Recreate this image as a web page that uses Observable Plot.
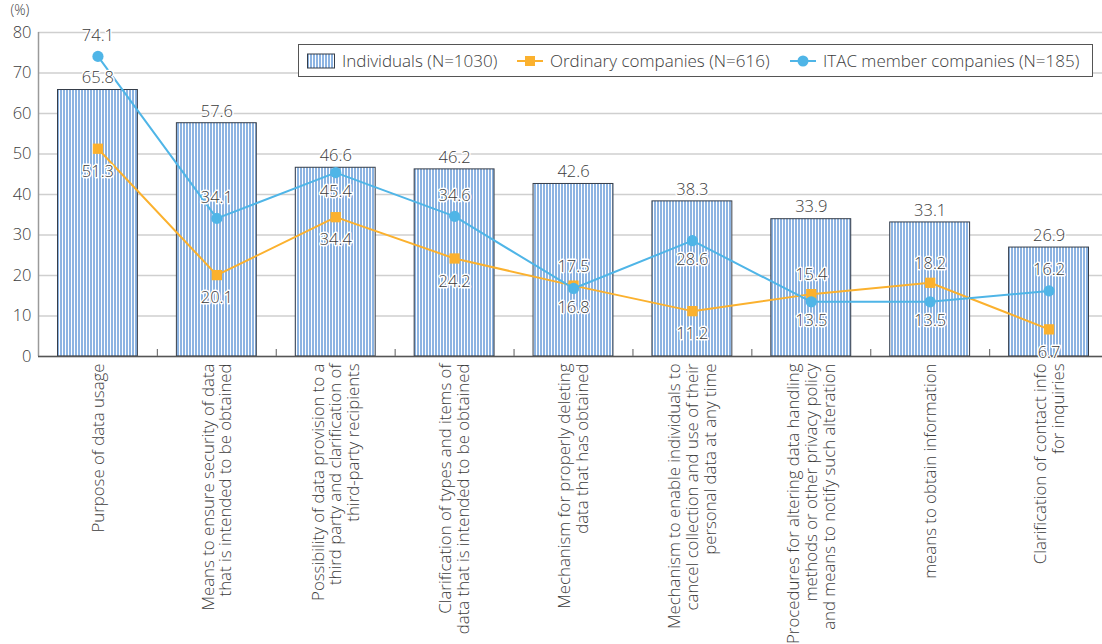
<!DOCTYPE html>
<html>
<head>
<meta charset="utf-8">
<script src="https://cdn.jsdelivr.net/npm/d3@7"></script>
<script src="https://cdn.jsdelivr.net/npm/@observablehq/plot@0.6"></script>
<style>
  html, body { margin: 0; padding: 0; background: #fff; overflow: hidden; }
  #wrap { position: relative; width: 1102px; height: 644px; font-family: "Open Sans", sans-serif; color: #3c3c3c; }
  #legend { position: absolute; left: 298px; top: 44px; width: 795px; height: 33px; box-sizing: border-box;
            border: 1px solid #555; background: #fff; font-size: 17px; font-weight: 300; }
  #legend .item { position: absolute; top: 0; height: 31px; display: flex; align-items: center; white-space: nowrap; }
  #legend svg { display: block; margin-right: 7px; }
</style>
</head>
<body>
<div id="wrap"></div>
<script>
// Survey items shown along the horizontal axis
const categories = [
  "Purpose of data usage",
  "Means to ensure security of data\nthat is intended to be obtained",
  "Possibility of data provision to a\nthird party and clarification of\nthird-party recipients",
  "Clarification of types and items of\ndata that is intended to be obtained",
  "Mechanism for properly deleting\ndata that has obtained",
  "Mechanism to enable individuals to\ncancel collection and use of their\npersonal data at any time",
  "Procedures for altering data handling\nmethods or other privacy policy\nand means to notify such alteration",
  "means to obtain information",
  "Clarification of contact info\nfor inquiries"
];

// Share of respondents (%)
const individuals = [65.8, 57.6, 46.6, 46.2, 42.6, 38.3, 33.9, 33.1, 26.9];
const ordinary    = [51.3, 20.1, 34.4, 24.2, 17.5, 11.2, 15.4, 18.2, 6.7];
const itac        = [74.1, 34.1, 45.4, 34.6, 16.8, 28.6, 13.5, 13.5, 16.2];

// Which side of its point each line label sits on
const ordinarySide = ["below", "below", "below", "below", "above", "below", "above", "above", "below"];
const itacSide     = ["above", "above", "below", "above", "below", "below", "below", "below", "above"];

const yTicks = [0, 10, 20, 30, 40, 50, 60, 70, 80];

const seriesNames = ["Individuals (N=1030)", "Ordinary companies (N=616)", "ITAC member companies (N=185)"];

const barBlue = "#8db4e2";
const orange = "#fbb12e";
const sky = "#4fb5e7";
const ink = "#3c3c3c";

const rows = categories.map((c, i) => ({
  i, c, ind: individuals[i], ord: ordinary[i], itac: itac[i],
  ordSide: ordinarySide[i], itacSide: itacSide[i]
}));
const mid = d => d.i + 0.5;
const bounds = d3.range(1, categories.length);

const labelStyle = {fill: ink, stroke: "white", strokeWidth: 3, fontSize: 16.5, fontWeight: 300};

const chart = Plot.plot({
  width: 1102,
  height: 644,
  marginLeft: 38,
  marginRight: -6,
  marginTop: 32,
  marginBottom: 288,
  style: {fontFamily: "Open Sans, sans-serif", fontSize: "15px", fontWeight: 300, color: ink, background: "white", overflow: "visible"},
  x: {domain: [0, categories.length], axis: null},
  y: {domain: [0, 80], axis: null},
  marks: [
    Plot.gridY(yTicks, {stroke: "#cfcfcf", strokeOpacity: 1, strokeWidth: 1.5}),
    Plot.axisY(yTicks, {tickSize: 0, tickPadding: 7, fontSize: 16.5, fill: ink, label: null}),
    Plot.text(["(%)"], {frameAnchor: "top-left", textAnchor: "start", dx: -28, dy: -27, fontSize: 14, fill: ink}),
    Plot.rect(rows, {
      x1: d => d.i, x2: d => d.i + 1, y1: 0, y2: "ind",
      insetLeft: 19.5, insetRight: 19.5,
      fill: "url(#bar-stripes)", stroke: "#353d49", strokeWidth: 1
    }),
    Plot.ruleX([0], {stroke: "#9a9a9a", strokeWidth: 1.5}),
    Plot.ruleY([0], {stroke: "#555", strokeWidth: 1.5}),
    Plot.ruleX(bounds, {y1: 0, y2: 0, insetTop: -7, stroke: "#777", strokeWidth: 1.2}),
    Plot.line(rows, {x: mid, y: "ord", stroke: orange, strokeWidth: 2}),
    Plot.dot(rows, {x: mid, y: "ord", symbol: "square", r: 5.8, fill: orange}),
    Plot.line(rows, {x: mid, y: "itac", stroke: sky, strokeWidth: 2}),
    Plot.dot(rows, {x: mid, y: "itac", symbol: "circle", r: 5.6, fill: sky}),
    Plot.text(rows, {x: mid, y: "ind", text: d => d.ind.toFixed(1), dy: -12, ...labelStyle}),
    Plot.text(rows.filter(d => d.ordSide === "above"), {x: mid, y: "ord", text: d => d.ord.toFixed(1), dy: -19, ...labelStyle}),
    Plot.text(rows.filter(d => d.ordSide === "below"), {x: mid, y: "ord", text: d => d.ord.toFixed(1), dy: 23, ...labelStyle}),
    Plot.text(rows.filter(d => d.itacSide === "above"), {x: mid, y: "itac", text: d => d.itac.toFixed(1), dy: -21, ...labelStyle}),
    Plot.text(rows.filter(d => d.itacSide === "below"), {x: mid, y: "itac", text: d => d.itac.toFixed(1), dy: 19, ...labelStyle}),
    Plot.text(rows, {
      x: mid, y: 0, text: "c", rotate: -90, textAnchor: "end", lineAnchor: "middle",
      lineHeight: 1.05, dy: 7, fontSize: 16.8, fill: ink
    })
  ]
});

// Striped fill used by the bars
const defs = d3.select(chart).insert("defs", ":first-child");
const pat = defs.append("pattern").attr("id", "bar-stripes")
  .attr("patternUnits", "userSpaceOnUse").attr("width", 3).attr("height", 10);
pat.append("rect").attr("width", 3).attr("height", 10).attr("fill", barBlue);
pat.append("rect").attr("x", 2).attr("width", 1).attr("height", 10).attr("fill", "white");

const wrap = document.getElementById("wrap");
wrap.appendChild(chart);

// Legend box
const legend = d3.select(wrap).append("div").attr("id", "legend");
const items = [
  {left: 8, kind: "bar"},
  {left: 218, kind: "square"},
  {left: 491, kind: "circle"}
];
items.forEach((it, k) => {
  const item = legend.append("div").attr("class", "item").style("left", it.left + "px");
  const sw = item.append("svg").attr("width", it.kind === "bar" ? 28 : 26).attr("height", 16);
  if (it.kind === "bar") {
    const p = sw.append("defs").append("pattern").attr("id", "legend-stripes")
      .attr("patternUnits", "userSpaceOnUse").attr("width", 3).attr("height", 10);
    p.append("rect").attr("width", 3).attr("height", 10).attr("fill", barBlue);
    p.append("rect").attr("x", 2).attr("width", 1).attr("height", 10).attr("fill", "white");
    sw.append("rect").attr("x", 0.5).attr("y", 1).attr("width", 27).attr("height", 14)
      .attr("fill", "url(#legend-stripes)").attr("stroke", "#353d49");
  } else {
    const col = it.kind === "square" ? orange : sky;
    sw.append("line").attr("x1", 0).attr("x2", 26).attr("y1", 8).attr("y2", 8)
      .attr("stroke", col).attr("stroke-width", 2);
    if (it.kind === "square") {
      sw.append("rect").attr("x", 8).attr("y", 3).attr("width", 10).attr("height", 10).attr("fill", col);
    } else {
      sw.append("circle").attr("cx", 13).attr("cy", 8).attr("r", 5.5).attr("fill", col);
    }
  }
  item.append("span").text(seriesNames[k]);
});
</script>
</body>
</html>
